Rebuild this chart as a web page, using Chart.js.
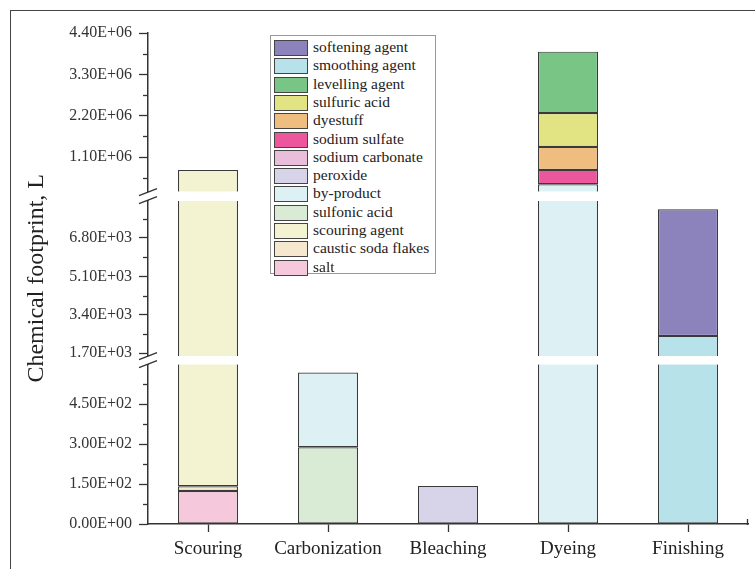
<!DOCTYPE html>
<html><head><meta charset="utf-8">
<script src="https://cdn.jsdelivr.net/npm/chart.js@4.4.0/dist/chart.umd.min.js"></script>
<style>
html,body{margin:0;padding:0;background:#fff;}
#wrap{position:relative;width:755px;height:569px;overflow:hidden;background:#fff;}
#c{position:absolute;left:0;top:0;}
#frame{position:absolute;left:10px;top:10px;width:760px;height:580px;border-left:1.5px solid #444;border-top:1.5px solid #444;pointer-events:none;}
#legend{position:absolute;left:270px;top:35px;width:164px;height:237px;border:1px solid #999;background:#fff;font-family:"Liberation Serif","Times New Roman",serif;font-size:15.5px;color:#222;}
#legend .row{position:absolute;left:0;height:18px;width:100%;}
#legend .sw{position:absolute;left:3px;top:1px;width:32px;height:14px;border:1px solid #444;}
#legend .tx{position:absolute;left:42px;top:-1px;line-height:18px;white-space:nowrap;}
</style>
</head><body>
<div id="wrap">
<canvas id="c" width="755" height="569"></canvas>
<div id="legend"></div>
<div id="frame"></div>
</div>
<script>
// ---- data ----
const categories = ['Scouring', 'Carbonization', 'Bleaching', 'Dyeing', 'Finishing'];
const salt              = [124, 0, 0, 0, 0];
const causticSodaFlakes = [18, 0, 0, 0, 0];
const scouringAgent     = [761600, 0, 0, 0, 0];
const sulfonicAcid      = [0, 288, 0, 0, 0];
const byProduct         = [0, 281, 0, 381000, 0];
const peroxide          = [0, 0, 143, 0, 0];
const sodiumCarbonate   = [0, 0, 0, 0, 0];
const sodiumSulfate     = [0, 0, 0, 381000, 0];
const dyestuff          = [0, 0, 0, 612000, 0];
const sulfuricAcid      = [0, 0, 0, 898000, 0];
const levellingAgent    = [0, 0, 0, 1633000, 0];
const smoothingAgent    = [0, 0, 0, 0, 2467];
const softeningAgent    = [0, 0, 0, 0, 5606];

const seriesNames = ['salt', 'caustic soda flakes', 'scouring agent', 'sulfonic acid', 'by-product',
  'peroxide', 'sodium carbonate', 'sodium sulfate', 'dyestuff', 'sulfuric acid', 'levelling agent',
  'smoothing agent', 'softening agent'];
const seriesValues = [salt, causticSodaFlakes, scouringAgent, sulfonicAcid, byProduct, peroxide,
  sodiumCarbonate, sodiumSulfate, dyestuff, sulfuricAcid, levellingAgent, smoothingAgent, softeningAgent];

// broken y axis: segment ranges (bottom, middle, top)
const segmentMin = [0, 1580, 184000];
const segmentMax = [600, 8450, 4400000];
const tickValuesBottom = [0, 150, 300, 450];
const tickLabelsBottom = ['0.00E+00', '1.50E+02', '3.00E+02', '4.50E+02'];
const tickValuesMiddle = [1700, 3400, 5100, 6800];
const tickLabelsMiddle = ['1.70E+03', '3.40E+03', '5.10E+03', '6.80E+03'];
const tickValuesTop = [1100000, 2200000, 3300000, 4400000];
const tickLabelsTop = ['1.10E+06', '2.20E+06', '3.30E+06', '4.40E+06'];
const minorBottom = [75, 225, 375, 525];
const minorMiddle = [2550, 4250, 5950, 7650];
const minorTop = [550000, 1650000, 2750000, 3850000];

// ---- styles ----
const seriesColors = ['#f6c8dc', '#f6e8cf', '#f3f3d2', '#d9ebd5', '#ddf0f4', '#d7d4ea', '#e8bedb',
  '#eb569d', '#f0bd80', '#e2e484', '#78c585', '#b8e2ea', '#8c82bc'];
const AX = '#333333';
const FONT = '"Liberation Serif", "Times New Roman", serif';
const BW = 1.2;

const segIds = ['yBot', 'yMid', 'yTop'];
const datasets = [];
const cum = categories.map(() => 0);
seriesValues.forEach((vals, s) => {
  const ranges = vals.map((v, i) => { const lo = cum[i]; cum[i] += v; return [lo, cum[i]]; });
  segIds.forEach((id, k) => {
    const data = ranges.map(([lo, hi], i) => {
      if (!(vals[i] > 0)) return null;
      if (hi <= segmentMin[k] || lo >= segmentMax[k]) return null;
      return [Math.max(lo, segmentMin[k]), Math.min(hi, segmentMax[k])];
    });
    const bws = ranges.map(([lo, hi]) => ({
      left: BW, right: BW,
      top: hi > segmentMax[k] ? 0 : BW,
      bottom: lo < segmentMin[k] ? 0 : BW
    }));
    datasets.push({
      label: seriesNames[s], data, yAxisID: id,
      backgroundColor: seriesColors[s], borderColor: '#3a3a3a',
      borderWidth: (ctx) => (ctx.dataIndex !== undefined && bws[ctx.dataIndex]) ? bws[ctx.dataIndex] : BW,
      borderSkipped: false, grouped: false, barPercentage: 1, categoryPercentage: 0.5
    });
  });
});

function labelMap(vals, labs) { const m = {}; vals.forEach((v, i) => m[v] = labs[i]); return m; }

function segScale(k, weight, stackWeight, tv, tl, extra) {
  const lm = labelMap(tv, tl);
  return Object.assign({
    type: 'linear', position: 'left', stack: 'ystack', stackWeight, weight,
    min: segmentMin[k], max: segmentMax[k],
    afterBuildTicks: (sc) => { sc.ticks = tv.map(v => ({ value: v })); },
    afterFit: (sc) => { sc.width = 148; },
    ticks: { callback: (v) => lm[v] !== undefined ? lm[v] : '', font: { family: FONT, size: 16 }, color: '#333', padding: 7, autoSkip: false },
    grid: { display: true, drawOnChartArea: false, tickLength: 9, tickColor: AX, tickWidth: 1.3, color: AX },
    border: { display: true, color: AX, width: 1.5 }
  }, extra || {});
}
function gapScale(weight, stackWeight) {
  return {
    type: 'linear', position: 'left', stack: 'ystack', stackWeight, weight, min: 0, max: 1,
    afterBuildTicks: (sc) => { sc.ticks = []; },
    afterFit: (sc) => { sc.width = 148; },
    ticks: { display: false },
    grid: { display: false },
    border: { display: true, color: AX, width: 1.5 }
  };
}

const minorPlugin = {
  id: 'minorAndBreaks',
  afterDraw(chart) {
    const ctx = chart.ctx;
    ctx.save();
    ctx.strokeStyle = AX; ctx.lineWidth = 1.3;
    [['yBot', minorBottom], ['yMid', minorMiddle], ['yTop', minorTop]].forEach(([id, arr]) => {
      const sc = chart.scales[id];
      arr.forEach(v => {
        const y = Math.round(sc.getPixelForValue(v)) + 0.5;
        ctx.beginPath(); ctx.moveTo(sc.right - 5, y); ctx.lineTo(sc.right, y); ctx.stroke();
      });
    });
    // end tick at right of x axis
    const xs = chart.scales.x;
    ctx.beginPath(); ctx.moveTo(xs.right - 0.5, xs.top - 5); ctx.lineTo(xs.right - 0.5, xs.top + 1); ctx.stroke();
    ['gap1', 'gap2'].forEach(id => {
      const sc = chart.scales[id];
      const cy = (sc.top + sc.bottom) / 2, x0 = sc.right;
      ctx.fillStyle = '#fff';
      ctx.beginPath();
      ctx.moveTo(x0 - 3, cy - 4 + 1.2); ctx.lineTo(x0 + 3, cy - 4 - 1.2);
      ctx.lineTo(x0 + 3, cy + 4 - 1.2); ctx.lineTo(x0 - 3, cy + 4 + 1.2); ctx.closePath(); ctx.fill();
      ctx.lineWidth = 1.4;
      [-4, 4].forEach(d => {
        ctx.beginPath(); ctx.moveTo(x0 - 9, cy + d + 3.5); ctx.lineTo(x0 + 9, cy + d - 3.5); ctx.stroke();
      });
    });
    ctx.restore();
  }
};

new Chart(document.getElementById('c'), {
  type: 'bar',
  data: { labels: categories, datasets },
  options: {
    responsive: false, animation: false,
    layout: { padding: { left: 0, top: 33, right: 7, bottom: 0 } },
    plugins: { legend: { display: false }, tooltip: { enabled: false } },
    scales: {
      x: {
        position: 'bottom',
        afterFit: (sc) => { sc.height = 45; },
        grid: { display: true, drawOnChartArea: false, offset: false, tickLength: 8, tickColor: AX, tickWidth: 1.3, color: AX },
        border: { display: true, color: AX, width: 1.5 },
        ticks: { font: { family: FONT, size: 19 }, color: '#222', padding: 6, maxRotation: 0, autoSkip: false }
      },
      yBot: segScale(0, 1, 159.5, tickValuesBottom, tickLabelsBottom),
      gap2: gapScale(2, 8.3),
      yMid: segScale(1, 3, 155, tickValuesMiddle, tickLabelsMiddle, {
        title: { display: true, text: 'Chemical footprint, L', font: { family: FONT, size: 24 }, color: '#222', padding: { top: 22, bottom: 0 } }
      }),
      gap1: gapScale(4, 9),
      yTop: segScale(2, 5, 158.4, tickValuesTop, tickLabelsTop)
    }
  },
  plugins: [minorPlugin]
});

// HTML legend (top-to-bottom is reverse of stacking order)
const leg = document.getElementById('legend');
for (let j = seriesNames.length - 1, r = 0; j >= 0; j--, r++) {
  const row = document.createElement('div');
  row.className = 'row';
  row.style.top = (3 + r * 18.3) + 'px';
  const sw = document.createElement('div'); sw.className = 'sw'; sw.style.background = seriesColors[j];
  const tx = document.createElement('div'); tx.className = 'tx'; tx.textContent = seriesNames[j];
  row.appendChild(sw); row.appendChild(tx); leg.appendChild(row);
}
</script>
</body></html>
